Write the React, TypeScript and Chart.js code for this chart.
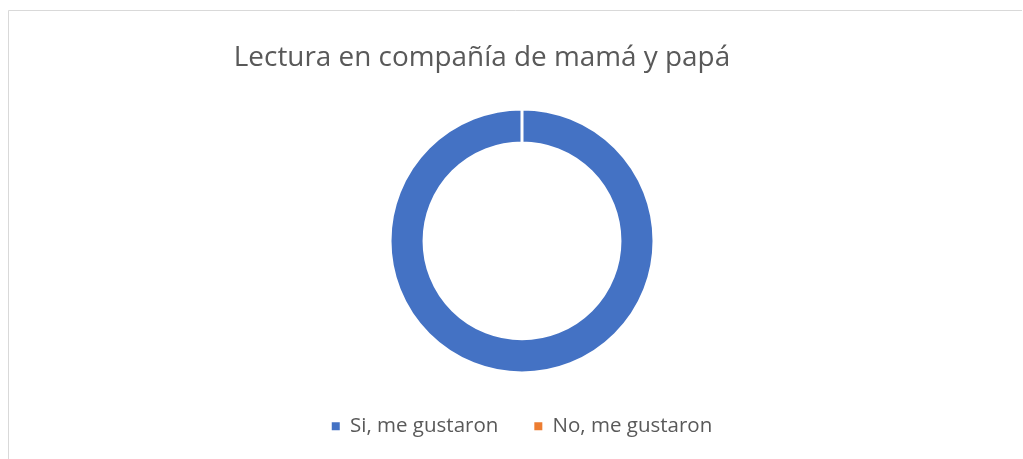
import React, { useEffect, useRef } from "react";
import { Chart, registerables } from "chart.js";

Chart.register(...registerables);

const categories = ["Si, me gustaron", "No, me gustaron"];
const values = [100, 0];
const colors = ["#4472C4", "#ED7D31"];
const titleText = "Lectura en compañía de mamá y papá";

const framePlugin = {
  id: "frame",
  beforeDraw(chart: any) {
    const ctx = chart.ctx;
    ctx.save();
    ctx.fillStyle = "#ffffff";
    ctx.fillRect(0, 0, chart.width, chart.height);
    ctx.strokeStyle = "#d9d9d9";
    ctx.lineWidth = 1;
    ctx.beginPath();
    ctx.moveTo(8.5, chart.height);
    ctx.lineTo(8.5, 10.5);
    ctx.lineTo(1022, 10.5);
    ctx.stroke();
    ctx.restore();
  },
};

export default function App() {
  const ref = useRef<HTMLCanvasElement | null>(null);
  useEffect(() => {
    if (!ref.current) return;
    const chart = new Chart(ref.current, {
      type: "doughnut",
      data: {
        labels: categories,
        datasets: [
          {
            data: values,
            backgroundColor: colors,
            borderColor: "#ffffff",
            borderWidth: 3,
          },
        ],
      },
      options: {
        animation: false,
        responsive: false,
        radius: 132,
        cutout: "74.2%",
        layout: { padding: { left: 21, right: 0, top: 101.75, bottom: 12.5 } },
        plugins: {
          tooltip: { enabled: false },
          title: { display: false },
          legend: {
            position: "bottom",
            labels: {
              color: "#595959",
              font: { family: "'Open Sans'", size: 20.5 },
              boxWidth: 8,
              boxHeight: 8,
              padding: 36,
              generateLabels(c: any) {
                const items = Chart.overrides.doughnut.plugins.legend.labels.generateLabels(c);
                return items.map((it: any) => ({
                  ...it,
                  lineWidth: 0,
                  strokeStyle: it.fillStyle,
                }));
              },
            },
          },
        },
      },
      plugins: [framePlugin],
    });
    return () => chart.destroy();
  }, []);
  return (
    <div>
      <canvas
        ref={ref}
        width={1023}
        height={459}
        style={{ position: "absolute", left: 0, top: 0, width: 1023, height: 459 }}
      />
      <div
        style={{
          position: "absolute",
          left: 0,
          top: 41,
          width: 964,
          textAlign: "center",
          fontFamily: "'Open Sans'",
          fontSize: 27.9,
          lineHeight: "28px",
          color: "#595959",
          whiteSpace: "nowrap",
        }}
      >
        {titleText}
      </div>
    </div>
  );
}
